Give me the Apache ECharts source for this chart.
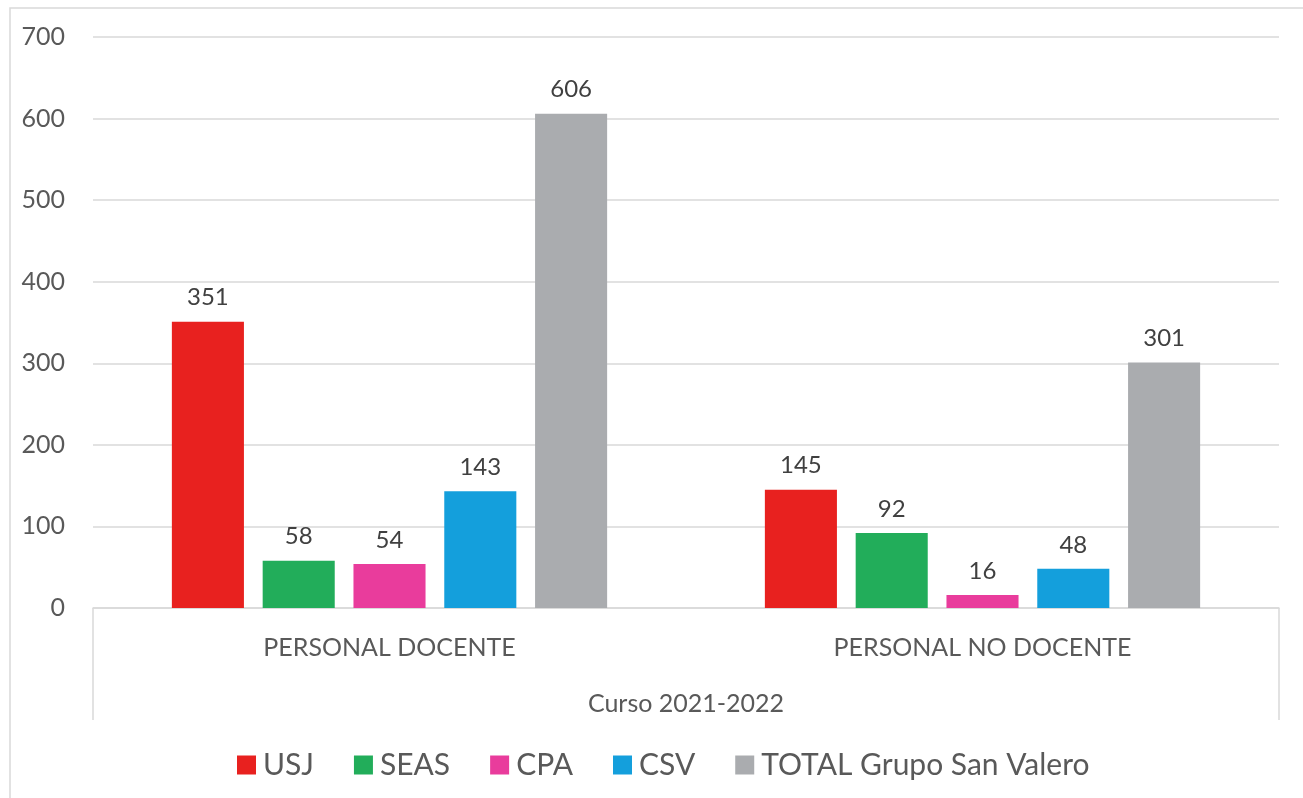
<!DOCTYPE html>
<html>
<head>
<meta charset="utf-8">
<script src="https://cdn.jsdelivr.net/npm/echarts@6/dist/echarts.min.js"></script>
<style>html,body{margin:0;padding:0;background:#fff;}#c{width:1303px;height:798px;}</style>
</head>
<body>
<div id="c"></div>
<script>
const categories = ['PERSONAL DOCENTE', 'PERSONAL NO DOCENTE'];
const groupLabel = ['Curso 2021-2022'];
const seriesNames = ['USJ', 'SEAS', 'CPA', 'CSV', 'TOTAL Grupo San Valero'];
const usj = [351, 145];
const seas = [58, 92];
const cpa = [54, 16];
const csv = [143, 48];
const total = [606, 301];
const colors = ['#E8211F', '#22AD5A', '#E93C9C', '#149FDC', '#AAACAF'];

const FONT = 'Lato';
const values = [usj, seas, cpa, csv, total];
const chart = echarts.init(document.getElementById('c'));
chart.setOption({
  animation: false,
  textStyle: { fontFamily: FONT },
  graphic: [{ type: 'rect', shape: { x: 10, y: 8, width: 1400, height: 900 }, style: { fill: 'none', stroke: '#D9D9D9', lineWidth: 1.5 }, silent: true }],
  grid: { left: 93, right: 24, top: 37, bottom: 190 },
  legend: {
    top: 745, left: 232, itemWidth: 19, itemHeight: 19, itemGap: 40,
    icon: 'rect',
    textStyle: { fontSize: 30, color: '#595959', fontFamily: FONT, padding: [0, 0, 0, 2] },
    data: seriesNames
  },
  xAxis: [
    {
      type: 'category', data: categories, position: 'bottom',
      axisLine: { show: true, lineStyle: { color: '#D9D9D9', width: 1.5 } },
      axisTick: { show: false },
      axisLabel: { margin: 27, fontSize: 25, color: '#595959', fontFamily: FONT }
    },
    {
      type: 'category', data: groupLabel, position: 'bottom', gridIndex: 0,
      axisLine: { show: false },
      axisTick: { show: true, length: 112, lineStyle: { color: '#D9D9D9', width: 1.5 } },
      axisLabel: { margin: 83, fontSize: 25, color: '#595959', fontFamily: FONT }
    }
  ],
  yAxis: {
    type: 'value', min: 0, max: 700, interval: 100,
    axisLine: { show: false }, axisTick: { show: false },
    splitLine: { lineStyle: { color: '#D9D9D9', width: 1.5 } },
    axisLabel: { margin: 28, fontSize: 25, color: '#595959', fontFamily: FONT }
  },
  series: seriesNames.map((n, i) => ({
    name: n, type: 'bar', xAxisIndex: 0, data: values[i],
    barGap: '26%', barCategoryGap: '26.6%',
    itemStyle: { color: colors[i] },
    label: { show: true, position: 'top', distance: 12, fontSize: 24, color: '#404040', fontFamily: FONT }
  }))
});
</script>
</body>
</html>
